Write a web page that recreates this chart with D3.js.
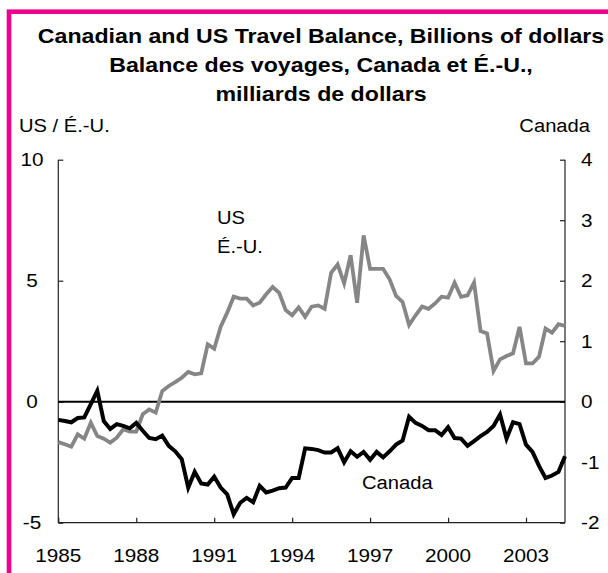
<!DOCTYPE html>
<html>
<head>
<meta charset="utf-8">
<script src="https://cdn.jsdelivr.net/npm/d3@7"></script>
<style>
  html, body { margin: 0; padding: 0; background: #fff; }
  svg { display: block; }
  text { font-family: "Liberation Sans", Arial, sans-serif; fill: #000; }
</style>
</head>
<body>
<div id="chart"></div>
<script>
// Quarterly travel balance, billions of dollars, 1985Q1 - 2004Q3
const quarters = d3.range(79).map(i => `${1985 + Math.floor(i / 4)}Q${(i % 4) + 1}`);

const usBalance = [
  -1.67, -1.76, -1.86, -1.35, -1.53, -0.87, -1.42, -1.53, -1.69, -1.49,
  -1.14, -1.24, -1.24, -0.52, -0.32, -0.45, 0.44, 0.65, 0.81, 0.99,
  1.23, 1.13, 1.17, 2.37, 2.19, 3.10, 3.68, 4.34, 4.26, 4.26,
  3.98, 4.09, 4.44, 4.74, 4.50, 3.79, 3.57, 3.90, 3.51, 3.93,
  3.98, 3.84, 5.33, 5.67, 4.89, 6.05, 4.09, 6.87, 5.49, 5.49,
  5.49, 5.06, 4.37, 4.12, 3.17, 3.57, 3.93, 3.84, 4.06, 4.34,
  4.30, 4.92, 4.33, 4.39, 4.92, 2.92, 2.82, 1.27, 1.75, 1.89,
  2.00, 3.09, 1.58, 1.58, 1.86, 3.02, 2.85, 3.20, 3.13
];

const canadaBalance = [
  -0.30, -0.32, -0.34, -0.27, -0.26, -0.04, 0.18, -0.32, -0.45, -0.37,
  -0.40, -0.44, -0.35, -0.48, -0.60, -0.62, -0.56, -0.73, -0.82, -0.95,
  -1.42, -1.16, -1.35, -1.37, -1.24, -1.42, -1.53, -1.86, -1.67, -1.59,
  -1.66, -1.39, -1.50, -1.47, -1.43, -1.42, -1.26, -1.26, -0.77, -0.78,
  -0.80, -0.84, -0.84, -0.77, -1.00, -0.82, -0.91, -0.83, -0.96, -0.83,
  -0.92, -0.82, -0.71, -0.64, -0.25, -0.35, -0.40, -0.47, -0.47, -0.55,
  -0.42, -0.60, -0.61, -0.73, -0.65, -0.57, -0.50, -0.40, -0.21, -0.61,
  -0.34, -0.37, -0.71, -0.83, -1.06, -1.26, -1.22, -1.16, -0.90
];

const xTickYears = [1985, 1988, 1991, 1994, 1997, 2000, 2003];
const leftTicks = [-5, 0, 5, 10];
const rightTicks = [-2, -1, 0, 1, 2, 3, 4];

const titleLines = [
  "Canadian and US Travel Balance, Billions of dollars",
  "Balance des voyages, Canada et É.-U.,",
  "milliards de dollars"
];

const width = 608;
const height = 573;
const magenta = "#ec008c";
const usColor = "#868686";
const canadaColor = "#000";

// the original picture is a bit stretched sideways, so text is widened
const stretch = 1.12;
const titleStretch = 1.13;

const plot = { left: 58.3, right: 565, top: 159.7, bottom: 522.7 };

const svg = d3.select("#chart")
  .append("svg")
  .attr("width", width)
  .attr("height", height);

// Magenta frame (right and bottom edges fall outside the picture)
svg.append("rect")
  .attr("x", 9)
  .attr("y", 11.7)
  .attr("width", 700)
  .attr("height", 700)
  .attr("fill", "none")
  .attr("stroke", magenta)
  .attr("stroke-width", 4.6);

function widen(sel, factor) {
  sel.each(function() {
    const len = this.getComputedTextLength();
    d3.select(this)
      .attr("textLength", len * factor)
      .attr("lengthAdjust", "spacingAndGlyphs");
  });
  return sel;
}

// Title
svg.append("g")
  .selectAll("text")
  .data(titleLines)
  .join("text")
  .attr("x", 321)
  .attr("y", (d, i) => 42.5 + i * 29)
  .attr("text-anchor", "middle")
  .attr("font-size", 20.5)
  .attr("font-weight", "bold")
  .text(d => d)
  .call(widen, titleStretch);

// Scales
const quarterYear = quarters.map(q => +q.slice(0, 4) + (+q.slice(5) - 1) / 4);

const x = d3.scaleLinear()
  .domain([1985, 2004.5])
  .range([plot.left, plot.right]);

const yLeft = d3.scaleLinear()
  .domain([-5, 10])
  .range([plot.bottom, plot.top]);

const yRight = d3.scaleLinear()
  .domain([-2, 4])
  .range([plot.bottom, plot.top]);

// Axes (ticks point inward)
const axisColor = "#222";

const leftAxis = svg.append("g")
  .attr("transform", `translate(${plot.left},0)`)
  .call(d3.axisRight(yLeft).tickValues(leftTicks).tickSize(5).tickFormat(""));

const rightAxis = svg.append("g")
  .attr("transform", `translate(${plot.right},0)`)
  .call(d3.axisLeft(yRight).tickValues(rightTicks).tickSize(5).tickFormat(""));

const bottomAxis = svg.append("g")
  .attr("transform", `translate(0,${plot.bottom})`)
  .call(d3.axisTop(x).tickValues(xTickYears).tickSize(5).tickFormat(""));

[leftAxis, rightAxis, bottomAxis].forEach(a => {
  a.select(".domain").attr("stroke", axisColor).attr("stroke-width", 1.2);
  a.selectAll(".tick line").attr("stroke", axisColor).attr("stroke-width", 1.2);
});
// keep only the axis lines, not the outer end caps
leftAxis.select(".domain").attr("d", `M0,${plot.top}V${plot.bottom}`);
rightAxis.select(".domain").attr("d", `M0,${plot.top}V${plot.bottom}`);
bottomAxis.select(".domain").attr("d", `M${plot.left},0H${plot.right}`);

// Tick labels
svg.append("g")
  .selectAll("text")
  .data(leftTicks)
  .join("text")
  .attr("x", 32)
  .attr("y", d => yLeft(d) + 6.5)
  .attr("text-anchor", "middle")
  .attr("font-size", 18.5)
  .text(d => d)
  .call(widen, stretch);

svg.append("g")
  .selectAll("text")
  .data(rightTicks)
  .join("text")
  .attr("x", 581)
  .attr("y", d => yRight(d) + 6.5)
  .attr("text-anchor", "start")
  .attr("font-size", 18.5)
  .text(d => d)
  .call(widen, stretch);

svg.append("g")
  .selectAll("text")
  .data(xTickYears)
  .join("text")
  .attr("x", d => x(d))
  .attr("y", 562)
  .attr("text-anchor", "middle")
  .attr("font-size", 18.5)
  .text(d => d)
  .call(widen, stretch);

// Axis titles
svg.append("text")
  .attr("x", 19)
  .attr("y", 132)
  .attr("font-size", 18)
  .text("US / É.-U.")
  .call(widen, stretch);

svg.append("text")
  .attr("x", 590)
  .attr("y", 132)
  .attr("text-anchor", "end")
  .attr("font-size", 18)
  .text("Canada")
  .call(widen, stretch);

// Zero line
svg.append("line")
  .attr("x1", plot.left)
  .attr("x2", plot.right)
  .attr("y1", yLeft(0))
  .attr("y2", yLeft(0))
  .attr("stroke", "#000")
  .attr("stroke-width", 2);

// Series
const usLine = d3.line()
  .x((d, i) => x(quarterYear[i]))
  .y(d => yLeft(d));

const canadaLine = d3.line()
  .x((d, i) => x(quarterYear[i]))
  .y(d => yRight(d));

svg.append("path")
  .datum(usBalance)
  .attr("fill", "none")
  .attr("stroke", usColor)
  .attr("stroke-width", 3.8)
  .attr("d", usLine);

svg.append("path")
  .datum(canadaBalance)
  .attr("fill", "none")
  .attr("stroke", canadaColor)
  .attr("stroke-width", 4)
  .attr("d", canadaLine);

// Series labels
svg.append("text")
  .attr("x", 217)
  .attr("y", 224)
  .attr("font-size", 18)
  .text("US")
  .call(widen, stretch);

svg.append("text")
  .attr("x", 217)
  .attr("y", 253)
  .attr("font-size", 18)
  .text("É.-U.")
  .call(widen, stretch);

svg.append("text")
  .attr("x", 362)
  .attr("y", 489)
  .attr("font-size", 18)
  .text("Canada")
  .call(widen, stretch);
</script>
</body>
</html>
